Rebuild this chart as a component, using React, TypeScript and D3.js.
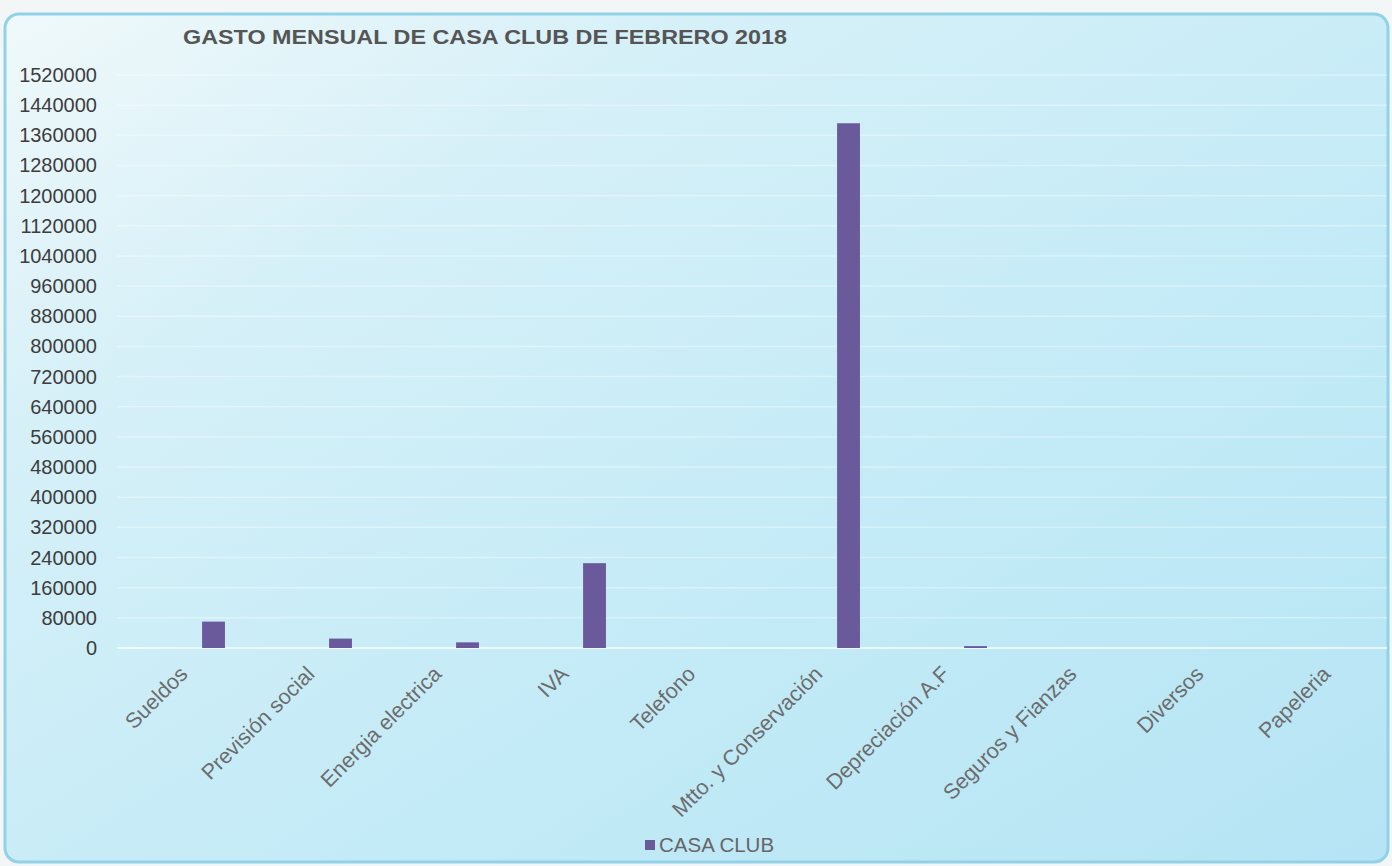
import React from "react";
import * as d3 from "d3";

const categories = [
  "Sueldos",
  "Previsión social",
  "Energia electrica",
  "IVA",
  "Telefono",
  "Mtto. y Conservación",
  "Depreciación A.F",
  "Seguros y Fianzas",
  "Diversos",
  "Papeleria",
];
const casaClub = [70000, 25000, 15000, 225000, 0, 1392000, 5000, 0, 0, 0];
const yTicks = d3.range(0, 1520001, 80000);
const seriesName = "CASA CLUB";
const title = "GASTO MENSUAL DE CASA CLUB DE FEBRERO 2018";

const W = 1392;
const H = 866;
const plot = { left: 117, right: 1387, top: 75, bottom: 648 };
const FONT = "'Liberation Sans', Arial, sans-serif";

export default function App() {
  const x = d3.scaleBand<string>().domain(categories).range([plot.left, plot.right]).padding(0);
  const y = d3.scaleLinear().domain([0, 1520000]).range([plot.bottom, plot.top]);
  const bw = x.bandwidth();
  const barW = bw * 0.18;
  const barOff = bw * 0.67;

  return (
    <svg
      width={W}
      height={H}
      style={{ position: "absolute", left: 0, top: 0, display: "block" }}
      fontFamily={FONT}
    >
      <defs>
        <linearGradient id="bg" x1="0" y1="0" x2="1" y2="1">
          <stop offset="0" stopColor="#f0f9fa" />
          <stop offset="0.25" stopColor="#d6f0f8" />
          <stop offset="0.6" stopColor="#c4ebf7" />
          <stop offset="1" stopColor="#b6e4f4" />
        </linearGradient>
      </defs>
      <rect x={0} y={0} width={W} height={H} fill="#f3f6f6" />
      <rect
        x={5}
        y={14}
        width={1383}
        height={848}
        rx={14}
        ry={14}
        fill="url(#bg)"
        stroke="#92d2e8"
        strokeWidth={3}
      />
      <text
        x={183}
        y={44}
        fontSize={21}
        fontWeight="bold"
        fill="#555"
        textLength={604}
        lengthAdjust="spacingAndGlyphs"
      >
        {title}
      </text>
      {/* gridlines */}
      {yTicks.map((t) => (
        <line
          key={"g" + t}
          x1={plot.left}
          x2={plot.right}
          y1={y(t)}
          y2={y(t)}
          stroke="#ffffff"
          strokeOpacity={t === 0 ? 0.9 : 0.35}
          strokeWidth={1.5}
        />
      ))}
      {/* y tick labels */}
      {yTicks.map((t) => (
        <text
          key={"t" + t}
          x={97}
          y={y(t)}
          dy="0.35em"
          textAnchor="end"
          fontSize={20}
          fill="#3d3d3d"
        >
          {t}
        </text>
      ))}
      {/* bars */}
      {categories.map((c, i) => {
        const v = casaClub[i];
        if (!v) return null;
        return (
          <rect
            key={c}
            x={(x(c) as number) + barOff}
            y={y(v)}
            width={barW}
            height={y(0) - y(v)}
            fill="#6a5a9c"
          />
        );
      })}
      {/* category labels */}
      {categories.map((c) => {
        const cx = (x(c) as number) + bw / 2 + 3;
        const cy = plot.bottom + 22;
        return (
          <text
            key={"l" + c}
            transform={`translate(${cx},${cy}) rotate(-45)`}
            textAnchor="end"
            dy="0.35em"
            fontSize={21.5}
            fill="#6c6c6c"
          >
            {c}
          </text>
        );
      })}
      {/* legend */}
      <rect x={645} y={840} width={10} height={10} fill="#6a5a9c" />
      <text x={659} y={852} fontSize={20.5} fill="#666">
        {seriesName}
      </text>
    </svg>
  );
}
